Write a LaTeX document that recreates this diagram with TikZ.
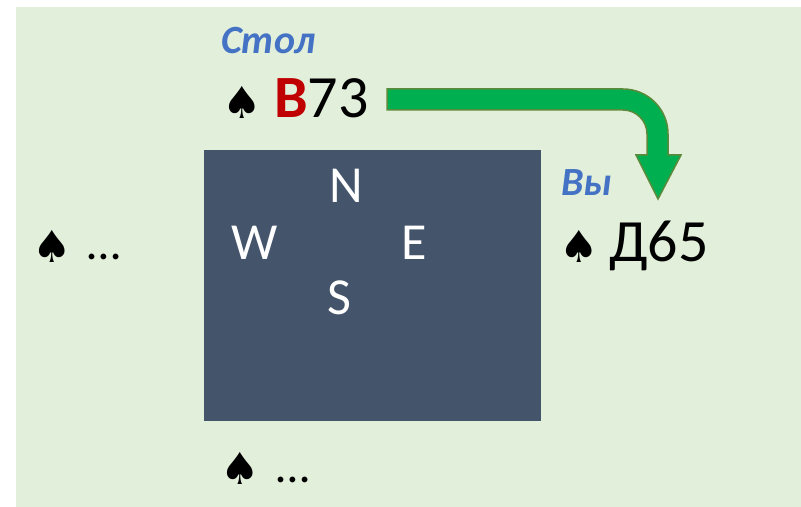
\documentclass[tikz,border=0pt]{standalone}
\usepackage{fontspec}
\setmainfont{Carlito}
\newfontfamily\suitfont{DejaVu Sans}

\definecolor{feltgreen}{HTML}{E2EFDA}
\definecolor{tablegrey}{HTML}{44546A}
\definecolor{playgreen}{HTML}{00B050}
\definecolor{playedge}{HTML}{5B8A3A}
\definecolor{whoblue}{HTML}{4472C4}
\definecolor{honourred}{HTML}{C00000}

\tikzset{
  cards/.style={anchor=base west, inner sep=0pt, font=\fontsize{60bp}{72bp}\selectfont},
  suit/.style={anchor=base west, inner sep=0pt, font=\suitfont\fontsize{44bp}{52bp}\selectfont},
  dots/.style={anchor=base west, inner sep=0pt, font=\fontsize{48bp}{56bp}\selectfont},
  seat/.style={anchor=base west, inner sep=0pt, text=white, font=\fontsize{52bp}{60bp}\selectfont},
  who/.style={anchor=base west, inner sep=0pt, text=whoblue, font=\bfseries\itshape\fontsize{40bp}{48bp}\selectfont},
}

\begin{document}
\begin{tikzpicture}[x=1bp,y=-1bp]

\useasboundingbox (0,0) rectangle (801,507);
\fill[feltgreen] (16,7) rectangle (801,507);

% the table
\node (table) [fill=tablegrey, inner sep=0pt, anchor=north west,
  minimum width=337bp, minimum height=271bp] at (204,150) {};

\node[seat] (north) at (329,203) {N};
\node[seat] (west) at (231,260) {W};
\node[seat] (east) at (401,260) {E};
\node[seat] (south) at (327,315) {S};

% dummy
\node[who] (stol) at (221,54) {Стол};
\node[suit] (spN) at (222,119) {♠};
\node[cards] (handN) at (274,118) {\textcolor{honourred}{\bfseries В}73};

% you
\node[who] (vy) at (561,196) {Вы};
\node[suit] (spE) at (559,263) {♠};
\node[cards] (handE) at (609,262) {Д65};

% unknown hands
\node[suit] (spW) at (32,263) {♠};
\node[dots] (handW) at (87,260) {…};
\node[suit] (spS) at (220,484) {♠};
\node[dots] (handS) at (276,482) {…};

% the play
\filldraw[fill=playgreen, draw=playedge, line width=1.5bp]
  (387,89) -- (623,89) arc[start angle=-90, end angle=0, radius=45]
  -- (668,155) -- (681,155) -- (658,199) -- (636,155) -- (647,155)
  -- (647,134) arc[start angle=0, end angle=-90, radius=24]
  -- (387,110) -- cycle;

\end{tikzpicture}
\end{document}
